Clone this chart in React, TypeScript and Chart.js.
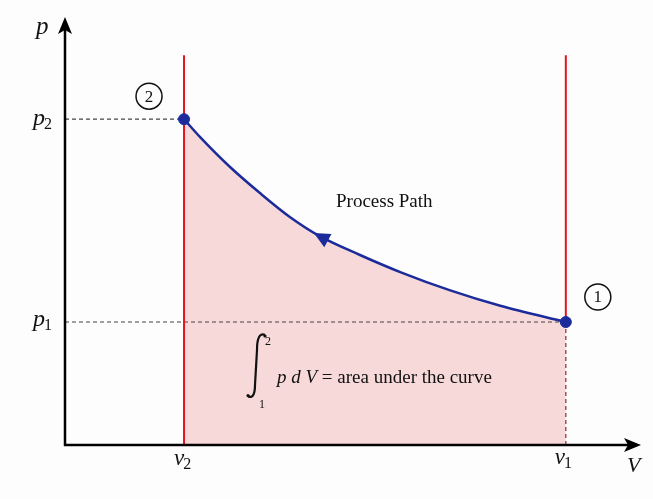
import { useEffect, useRef } from 'react';
import { Chart, registerables } from 'chart.js';
Chart.register(...registerables);

const SERIF = "'Liberation Serif', 'Times New Roman', serif";

// Process path (V, p in arbitrary units)
const curveV = [2.07, 2.35, 2.87, 3.39, 3.91, 4.43, 5.13, 5.83, 6.7, 7.57, 8.71];
const curveP = [7.63, 7.21, 6.51, 5.9, 5.34, 4.89, 4.45, 4.05, 3.62, 3.26, 2.88];

// States 1 and 2
const stateNames = ['1', '2'];
const stateV = [8.71, 2.07];
const stateP = [2.88, 7.63];

// Tick labels
const volumeTickLabels = ['v', 'v'];
const volumeTickSubs = ['1', '2'];
const pressureTickLabels = ['p', 'p'];
const pressureTickSubs = ['1', '2'];

const boundaryTop = 9.13;
const axisMax = 10;

const BLUE = '#1b2b9c';
const RED = '#e3141b';

export default function App() {
  const ref = useRef<HTMLCanvasElement>(null);
  useEffect(() => {
    document.body.style.margin = '0';
    const canvas = ref.current!;
    const curve = curveV.map((v, i) => ({ x: v, y: curveP[i] }));
    const [v1, v2] = stateV;
    const [p1, p2] = stateP;

    const annot = {
      id: 'annot',
      afterDatasetsDraw(chart: any) {
        const ctx = chart.ctx as CanvasRenderingContext2D;
        const xs = chart.scales.x;
        const ys = chart.scales.y;
        const X = (v: number) => xs.getPixelForValue(v);
        const Y = (v: number) => ys.getPixelForValue(v);
        const x0 = X(0), y0 = Y(0), xEnd = X(axisMax), yEnd = Y(axisMax);
        ctx.save();
        // axes
        ctx.strokeStyle = '#000';
        ctx.fillStyle = '#000';
        ctx.lineWidth = 2.5;
        ctx.beginPath();
        ctx.moveTo(x0, y0 + 1);
        ctx.lineTo(x0, yEnd + 10);
        ctx.moveTo(x0 - 1, y0);
        ctx.lineTo(xEnd - 10, y0);
        ctx.stroke();
        ctx.beginPath();
        ctx.moveTo(x0, yEnd - 1);
        ctx.lineTo(x0 - 7, yEnd + 16);
        ctx.lineTo(x0, yEnd + 12);
        ctx.lineTo(x0 + 7, yEnd + 16);
        ctx.closePath();
        ctx.fill();
        ctx.beginPath();
        ctx.moveTo(xEnd + 1, y0);
        ctx.lineTo(xEnd - 16, y0 - 7);
        ctx.lineTo(xEnd - 12, y0);
        ctx.lineTo(xEnd - 16, y0 + 7);
        ctx.closePath();
        ctx.fill();

        // arrow on process path
        const a = { x: X(curveV[6]), y: Y(curveP[6]) };
        const b = { x: X(curveV[4]), y: Y(curveP[4]) };
        let dx = b.x - a.x, dy = b.y - a.y;
        const len = Math.hypot(dx, dy);
        dx /= len; dy /= len;
        const cx = X(curveV[5]) + 2, cy = Y(curveP[5]) + 1;
        ctx.fillStyle = BLUE;
        ctx.beginPath();
        ctx.moveTo(cx + dx * 9, cy + dy * 9);
        ctx.lineTo(cx - dx * 7 - dy * 7.5, cy - dy * 7 + dx * 7.5);
        ctx.lineTo(cx - dx * 7 + dy * 7.5, cy - dy * 7 - dx * 7.5);
        ctx.closePath();
        ctx.fill();

        // labels with subscripts
        ctx.fillStyle = '#111';
        ctx.textBaseline = 'alphabetic';
        ctx.textAlign = 'left';
        const lab = (main: string, sub: string, x: number, y: number, size: number) => {
          ctx.font = `italic ${size}px ${SERIF}`;
          ctx.fillText(main, x, y);
          const w = ctx.measureText(main).width;
          if (sub) {
            ctx.font = `${Math.round(size * 0.68)}px ${SERIF}`;
            ctx.fillText(sub, x + w - 1, y + 4);
          }
        };
        lab('p', '', x0 - 29, yEnd + 16, 25);
        lab(pressureTickLabels[1], pressureTickSubs[1], x0 - 32, Y(p2) + 6, 24);
        lab(pressureTickLabels[0], pressureTickSubs[0], x0 - 32, Y(p1) + 4, 24);
        lab(volumeTickLabels[1], volumeTickSubs[1], X(v2) - 10, y0 + 20, 23);
        lab(volumeTickLabels[0], volumeTickSubs[0], X(v1) - 11, y0 + 19, 23);
        lab('V', '', xEnd - 13, y0 + 27, 22);

        // state circles
        const circ = (label: string, x: number, y: number) => {
          ctx.strokeStyle = '#111';
          ctx.lineWidth = 1.5;
          ctx.beginPath();
          ctx.arc(x, y, 13, 0, Math.PI * 2);
          ctx.stroke();
          ctx.font = `17px ${SERIF}`;
          ctx.textAlign = 'center';
          ctx.textBaseline = 'middle';
          ctx.fillText(label, x, y + 1);
          ctx.textAlign = 'left';
          ctx.textBaseline = 'alphabetic';
        };
        circ(stateNames[1], X(v2) - 35, Y(p2) - 23);
        circ(stateNames[0], X(v1) + 32, Y(p1) - 25);

        // Process Path text
        ctx.font = `19px ${SERIF}`;
        ctx.fillText('Process Path', 336, 207);

        // integral
        ctx.strokeStyle = '#111';
        ctx.lineWidth = 2.2;
        ctx.beginPath();
        ctx.moveTo(265, 335);
        ctx.bezierCurveTo(259, 332, 257, 340, 257, 350);
        ctx.lineTo(255, 385);
        ctx.bezierCurveTo(255, 395, 252, 399, 248, 396);
        ctx.stroke();
        ctx.fillStyle = '#111';
        ctx.beginPath();
        ctx.arc(265, 336, 1.6, 0, Math.PI * 2);
        ctx.arc(248, 395.5, 1.6, 0, Math.PI * 2);
        ctx.fill();
        ctx.font = `12px ${SERIF}`;
        ctx.fillText('2', 265, 345);
        ctx.fillText('1', 259, 408);
        let tx = 277;
        const part = (t: string, italic: boolean) => {
          ctx.font = `${italic ? 'italic ' : ''}19px ${SERIF}`;
          ctx.fillText(t, tx, 383);
          tx += ctx.measureText(t).width;
        };
        part('p', true);
        part(' ', false);
        part('d', true);
        part(' ', false);
        part('V', true);
        part(' = area under the curve', false);
        ctx.restore();
      },
    };

    const chart = new Chart(canvas, {
      type: 'line',
      data: {
        datasets: [
          {
            data: stateV.map((v, i) => ({ x: v, y: stateP[i] })),
            showLine: false,
            pointRadius: 5.5,
            pointBackgroundColor: BLUE,
            pointBorderColor: BLUE,
            order: 0,
          },
          {
            data: curve,
            borderColor: BLUE,
            borderWidth: 2.5,
            pointRadius: 0,
            cubicInterpolationMode: 'monotone',
            fill: 'origin',
            backgroundColor: 'rgba(245, 205, 205, 0.75)',
            order: 5,
          },
          {
            data: [{ x: v2, y: 0 }, { x: v2, y: boundaryTop }],
            borderColor: RED,
            borderWidth: 2,
            pointRadius: 0,
            order: 2,
          },
          {
            data: [{ x: v1, y: p1 }, { x: v1, y: boundaryTop }],
            borderColor: RED,
            borderWidth: 2,
            pointRadius: 0,
            order: 2,
          },
          {
            data: [{ x: v1, y: 0 }, { x: v1, y: p1 }],
            borderColor: '#9b3a3a',
            borderWidth: 1.3,
            borderDash: [4, 3],
            pointRadius: 0,
            order: 2,
          },
          {
            data: [{ x: 0, y: p2 }, { x: v2, y: p2 }],
            borderColor: '#444',
            borderWidth: 1.2,
            borderDash: [4, 3],
            pointRadius: 0,
            order: 3,
          },
          {
            data: [{ x: 0, y: p1 }, { x: v1, y: p1 }],
            borderColor: '#444',
            borderWidth: 1.2,
            borderDash: [4, 3],
            pointRadius: 0,
            order: 3,
          },
        ],
      },
      options: {
        animation: false,
        responsive: false,
        layout: { padding: { left: 65, right: 13, top: 18, bottom: 54 } },
        scales: {
          x: { type: 'linear', min: 0, max: axisMax, display: false },
          y: { type: 'linear', min: 0, max: axisMax, display: false },
        },
        plugins: { legend: { display: false }, tooltip: { enabled: false } },
      },
      plugins: [annot],
    } as any);
    return () => chart.destroy();
  }, []);
  return <canvas ref={ref} width={653} height={499} style={{ display: 'block', background: '#fdfdfd' }} />;
}
